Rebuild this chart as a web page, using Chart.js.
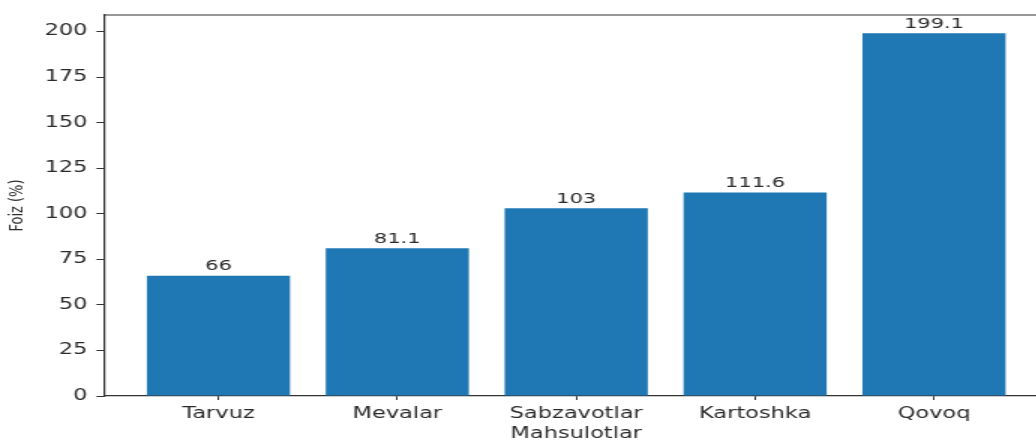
<!DOCTYPE html>
<html>
<head>
<meta charset="utf-8">
<script src="https://cdn.jsdelivr.net/npm/chart.js@4"></script>
<style>
  html, body { margin: 0; padding: 0; background: #fff; overflow: hidden; }
  /* the source picture is stretched sideways and a bit soft, so the canvas is too */
  #wrap { width: 699px; height: 440px; transform: scaleX(1.5); transform-origin: 0 0; filter: blur(0.4px); }
</style>
</head>
<body>
<div id="wrap"><canvas id="myChart" width="699" height="440"></canvas></div>
<script>
const categories = ['Tarvuz', 'Mevalar', 'Sabzavotlar', 'Kartoshka', 'Qovoq'];
const values = [66, 81.1, 103, 111.6, 199.1];
const yTicks = [0, 25, 50, 75, 100, 125, 150, 175, 200];

const textColor = '#2b2b2b';
const spineColor = '#333';

// value over each bar
const barLabels = {
  id: 'barLabels',
  afterDatasetsDraw(chart) {
    const ctx = chart.ctx;
    const meta = chart.getDatasetMeta(0);
    ctx.save();
    ctx.fillStyle = textColor;
    ctx.font = '14px "DejaVu Sans"';
    ctx.textAlign = 'center';
    ctx.textBaseline = 'bottom';
    meta.data.forEach((bar, i) => {
      ctx.fillText(String(values[i]), bar.x, bar.y - 2);
    });
    ctx.restore();
  }
};

// top spine (right one is off the picture)
const frame = {
  id: 'frame',
  afterDraw(chart) {
    const {ctx, chartArea} = chart;
    ctx.save();
    ctx.strokeStyle = spineColor;
    ctx.lineWidth = 1.2;
    ctx.beginPath();
    ctx.moveTo(chartArea.left, chartArea.top);
    ctx.lineTo(chartArea.right, chartArea.top);
    ctx.stroke();
    ctx.restore();
  }
};

const data = {
  datasets: [{
    label: 'Foiz',
    data: categories.map((c, i) => ({x: i, y: values[i]})),
    backgroundColor: '#1f77b4',
    borderWidth: 0,
    barPercentage: 0.8,
    categoryPercentage: 1
  }]
};

const config = {
  type: 'bar',
  data,
  plugins: [barLabels, frame],
  options: {
    responsive: false,
    animation: false,
    layout: { padding: { top: 13, right: 0, bottom: 0, left: 0 } },
    plugins: { legend: { display: false }, tooltip: { enabled: false } },
    scales: {
      x: {
        type: 'linear',
        min: -0.64,
        max: 4.64,
        offset: false,
        afterBuildTicks: (scale) => { scale.ticks = categories.map((c, i) => ({value: i})); },
        afterFit: (scale) => { scale.height = 44; },
        grid: { offset: false, drawOnChartArea: false, tickLength: 4, color: spineColor },
        border: { display: true, color: spineColor, width: 1.2 },
        ticks: {
          autoSkip: false,
          maxRotation: 0,
          padding: 5,
          color: textColor,
          font: { family: 'DejaVu Sans', size: 15 },
          callback: (v) => categories[v]
        },
        title: {
          display: true,
          text: 'Mahsulotlar',
          color: textColor,
          font: { family: 'DejaVu Sans', size: 15, lineHeight: 1 },
          padding: { top: 0, bottom: -2 }
        }
      },
      y: {
        min: 0,
        max: 209.06,
        afterBuildTicks: (scale) => { scale.ticks = yTicks.map(v => ({value: v})); },
        afterFit: (scale) => { scale.width = 69.3; },
        grid: { drawOnChartArea: false, tickLength: 5, color: spineColor },
        border: { display: true, color: spineColor, width: 1.2 },
        ticks: {
          padding: 6,
          color: textColor,
          font: { family: 'DejaVu Sans', size: 15 }
        },
        title: {
          display: true,
          text: 'Foiz (%)',
          color: textColor,
          font: { family: 'DejaVu Sans', size: 13 },
          padding: { top: 4, bottom: 0 }
        }
      }
    }
  }
};

var myChart = new Chart(document.getElementById('myChart'), config);
</script>
</body>
</html>
